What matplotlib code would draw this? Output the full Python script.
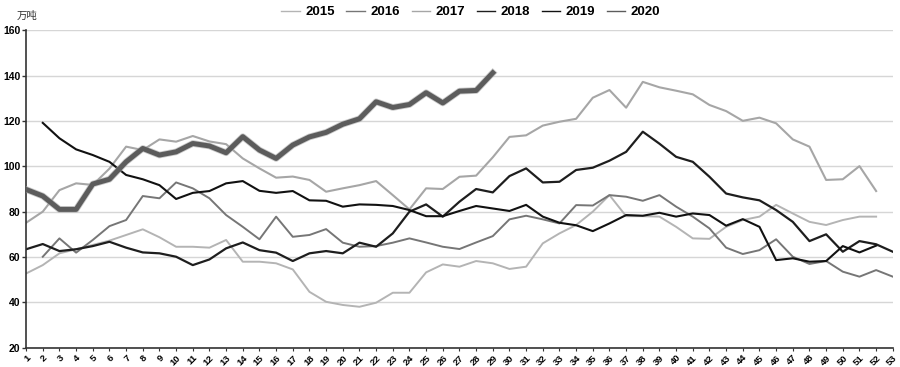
import numpy as np
import matplotlib
matplotlib.use("Agg")
import matplotlib.pyplot as plt
import matplotlib.patheffects as pe

nan = np.nan

# weekly values, 万吨
weeks = np.arange(1, 54)

y2015 = [52.7, 56.4, 61.6, 63.4, 65.3, 67.2, 69.7, 72.2, 68.7, 64.5,
         64.5, 64.1, 67.5, 57.9, 57.9, 57.2, 54.5, 44.6, 40.2, 38.8,
         38.0, 39.8, 44.2, 44.2, 53.2, 56.7, 55.7, 58.2, 57.2, 54.7,
         55.7, 66.0, 70.4, 74.1, 80.0, 87.3, 78.0, 78.0, 77.8, 73.3,
         68.2, 68.0, 73.3, 76.3, 77.8, 83.0, 79.2, 75.5, 74.1, 76.3,
         77.8, 77.8, nan]
y2016 = [nan, 60.1, 68.2, 61.9, 67.5, 73.6, 76.3, 86.9, 85.9, 92.9,
         90.3, 85.9, 78.5, 73.3, 67.8, 77.8, 68.9, 69.7, 72.3, 66.3,
         64.5, 64.8, 66.3, 68.2, 66.4, 64.5, 63.5, 66.4, 69.2, 76.6,
         78.2, 76.6, 74.8, 82.9, 82.7, 87.3, 86.6, 84.8, 87.3, 82.2,
         77.8, 72.6, 64.1, 61.3, 63.0, 67.8, 60.1, 56.9, 58.2, 53.5,
         51.3, 54.2, 51.3]
y2017 = [75.1, 80.0, 89.5, 92.5, 91.8, 99.0, 108.7, 107.2, 111.9, 110.9,
         113.4, 111.0, 109.8, 103.5, 99.1, 95.0, 95.5, 94.0, 88.8, 90.3,
         91.7, 93.5, 87.3, 81.0, 90.3, 90.0, 95.4, 95.9, 104.0, 113.0,
         113.7, 118.0, 119.7, 121.0, 130.3, 133.7, 125.9, 137.3, 134.9, 133.4,
         131.8, 127.1, 124.4, 120.1, 121.5, 119.0, 111.9, 108.7, 94.0, 94.3,
         100.1, 89.1, nan]
y2018 = [63.4, 65.7, 62.6, 63.4, 64.8, 66.7, 64.1, 62.0, 61.6, 60.1,
         56.4, 58.9, 63.8, 66.4, 63.0, 61.9, 58.2, 61.6, 62.6, 61.6,
         66.3, 64.5, 70.4, 80.0, 83.2, 77.8, 84.4, 90.0, 88.5, 95.7,
         99.1, 92.9, 93.2, 98.4, 99.4, 102.5, 106.4, 115.3, 110.0, 104.2,
         102.0, 95.4, 88.0, 86.3, 85.0, 80.7, 75.5, 67.0, 70.0, 62.3,
         67.0, 65.6, 62.3]
y2019 = [nan, 119.2, 112.4, 107.5, 105.0, 102.0, 96.2, 94.3, 91.7, 85.6,
         88.3, 89.1, 92.5, 93.5, 89.2, 88.3, 89.1, 85.0, 84.8, 82.2,
         83.2, 83.0, 82.5, 80.7, 78.0, 78.0, 80.3, 82.5, 81.4, 80.3,
         83.0, 77.8, 75.1, 74.0, 71.4, 74.8, 78.5, 78.2, 79.5, 77.8,
         79.2, 78.5, 73.8, 76.7, 73.3, 58.6, 59.4, 57.9, 58.2, 64.8,
         62.0, 65.0, nan]
y2020 = [89.8, 86.9, 81.0, 81.0, 92.2, 94.3, 102.0, 107.9, 105.0, 106.4,
         110.1, 109.0, 106.0, 113.1, 107.2, 103.5, 109.4, 113.0, 115.0, 118.6,
         121.0, 128.5, 126.0, 127.3, 132.5, 128.0, 133.2, 133.5, 141.3] + [nan] * 24

years = ["2015", "2016", "2017", "2018", "2019", "2020"]
series = [y2015, y2016, y2017, y2018, y2019, y2020]
colors = ["#b4b4b4", "#767676", "#a6a6a6", "#1e1e1e", "#111111", "#5c5c5c"]
widths = [1.4, 1.4, 1.5, 1.6, 1.5, 3.6]

plt.rcParams["font.family"] = ["Liberation Sans", "DejaVu Sans"]

fig = plt.figure(figsize=(9, 3.67), dpi=100)
ax = fig.add_axes([0.029, 0.053, 0.963, 0.864])

for name, vals, c, lw in zip(years, series, colors, widths):
    line, = ax.plot(weeks, vals, color=c, lw=lw, label=name,
                    zorder=3 if name == "2020" else 2)
    if name == "2020":
        line.set_path_effects([pe.Stroke(linewidth=lw + 1.2, foreground="#a8a8a8", alpha=0.6),
                               pe.Normal()])

ax.set_xlim(1, 53)
ax.set_ylim(20, 160)
ax.set_yticks(np.arange(20, 161, 20))
ax.set_xticks(weeks)
ax.set_xticklabels([str(w) for w in weeks], rotation=45, ha="right",
                   rotation_mode="anchor", fontsize=6.8, fontweight="bold")
for lab in ax.get_yticklabels():
    lab.set_fontweight("bold")
    lab.set_fontsize(7.5)
ax.tick_params(axis="y", length=3, width=1, color="#333333", pad=1)
ax.tick_params(axis="x", length=2.5, width=0.8, color="#333333", pad=1.5)

ax.grid(axis="y", color="#d6d6d6", lw=1)
ax.set_axisbelow(True)
for s in ["top", "right"]:
    ax.spines[s].set_visible(False)
for s in ["left", "bottom"]:
    ax.spines[s].set_color("#333333")
    ax.spines[s].set_linewidth(1.2)

fig.text(0.019, 0.957, "万吨", fontsize=7.5, color="#333333",
         family=["Noto Sans CJK SC", "DejaVu Sans"], va="center")

leg = fig.legend(loc="center", bbox_to_anchor=(0.523, 0.967), ncol=6,
                 frameon=False, prop={"weight": "bold", "size": 9.5},
                 handlelength=1.4, columnspacing=0.9, handletextpad=0.4)
for h in leg.legend_handles:
    h.set_linewidth(1.0)
    h.set_path_effects([])

fig.savefig("out.png", dpi=100)
